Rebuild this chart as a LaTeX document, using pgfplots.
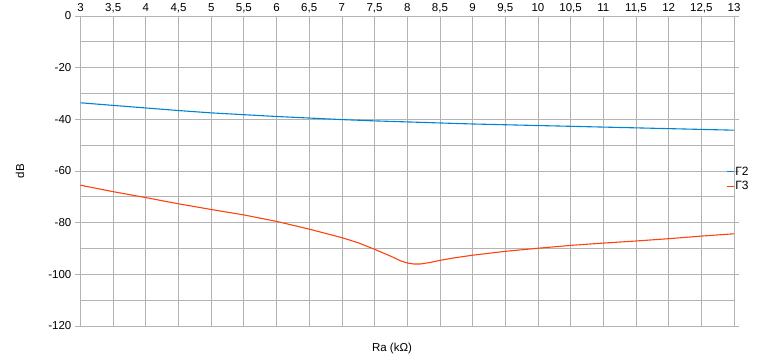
\documentclass[border=0pt]{standalone}
\usepackage{fontspec}
\setmainfont{Liberation Sans}
\usepackage{pgfplots}
\pgfplotsset{compat=1.18}
\definecolor{gridgray}{HTML}{B3B3B3}
\definecolor{sblue}{HTML}{0084D1}
\definecolor{sred}{HTML}{FF420E}
\begin{document}
\begin{tikzpicture}
\begin{axis}[
  scale only axis,
  width=653.5bp, height=310bp,
  xmin=3, xmax=13, ymin=-120, ymax=0,
  xtick={3,3.5,...,13},
  ytick={0,-20,...,-120},
  minor ytick={-10,-30,-50,-70,-90,-110},
  grid=both,
  major grid style={gridgray, line width=0.8bp},
  minor grid style={gridgray, line width=0.8bp},
  axis line style={gridgray, line width=0.8bp},
  xticklabel pos=upper,
  x tick style={draw=none},
  minor tick length=0pt,
  y tick style={gridgray, line width=0.8bp},
  tick align=outside,
  major tick length=5bp,
  /pgf/number format/assume math mode=true,
  /pgf/number format/use comma,
  xticklabel style={anchor=base, inner sep=0pt, yshift=-1bp, font=\fontsize{11.5bp}{13bp}\selectfont},
  yticklabel style={anchor=east, inner sep=0pt, xshift=-4bp, font=\fontsize{11.5bp}{13bp}\selectfont},
  xlabel={Ra (kΩ)},
  ylabel={dB},
  xlabel style={at={(rel axis cs:0.4767,0)}, anchor=center, yshift=-23bp, font=\fontsize{11.5bp}{13bp}\selectfont},
  ylabel style={at={(rel axis cs:0,0.5)}, anchor=center, yshift=60.5bp, font=\fontsize{11.5bp}{13bp}\selectfont},
  legend style={at={(rel axis cs:1,0.5)}, anchor=west, xshift=-8bp, yshift=-8bp, draw=none, fill=none, inner sep=0pt,
    font=\fontsize{12bp}{13bp}\selectfont, row sep=3bp, nodes={inner sep=1bp}},
  legend cell align=left,
  legend image code/.code={\draw[#1] (0bp,0bp) -- (7bp,0bp);},
]
\addplot[sblue, line width=1.1bp] coordinates {
(3,-33.6)(3.5,-34.6)(4,-35.6)(4.5,-36.6)(5,-37.5)(5.5,-38.2)(6,-38.9)(6.5,-39.5)(7,-40.1)(7.5,-40.6)(8,-41.0)(8.5,-41.4)(9,-41.8)(9.5,-42.1)(10,-42.4)(10.5,-42.7)(11,-43.0)(11.5,-43.3)(12,-43.6)(12.5,-43.9)(13,-44.2)};
\addlegendentry{Г2}
\addplot[sred, line width=1.1bp] coordinates {
(3,-65.5)(3.5,-68)(4,-70.3)(4.5,-72.7)(5,-74.9)(5.5,-77)(6,-79.5)(6.5,-82.5)(7,-85.8)(7.25,-87.8)(7.5,-90.3)(7.75,-93)(7.9,-94.8)(8,-95.6)(8.1,-96)(8.2,-96)(8.35,-95.4)(8.5,-94.6)(8.7,-93.7)(9,-92.6)(9.5,-91.1)(10,-89.9)(10.5,-88.8)(11,-87.9)(11.5,-87.1)(12,-86.2)(12.5,-85.2)(13,-84.3)};
\addlegendentry{Г3}
\coordinate (bl) at (rel axis cs:0,0);
\end{axis}
\pgfresetboundingbox
\path (bl) ++(-80.5bp,-34bp) rectangle ++(768bp,360bp);
\end{tikzpicture}
\end{document}
